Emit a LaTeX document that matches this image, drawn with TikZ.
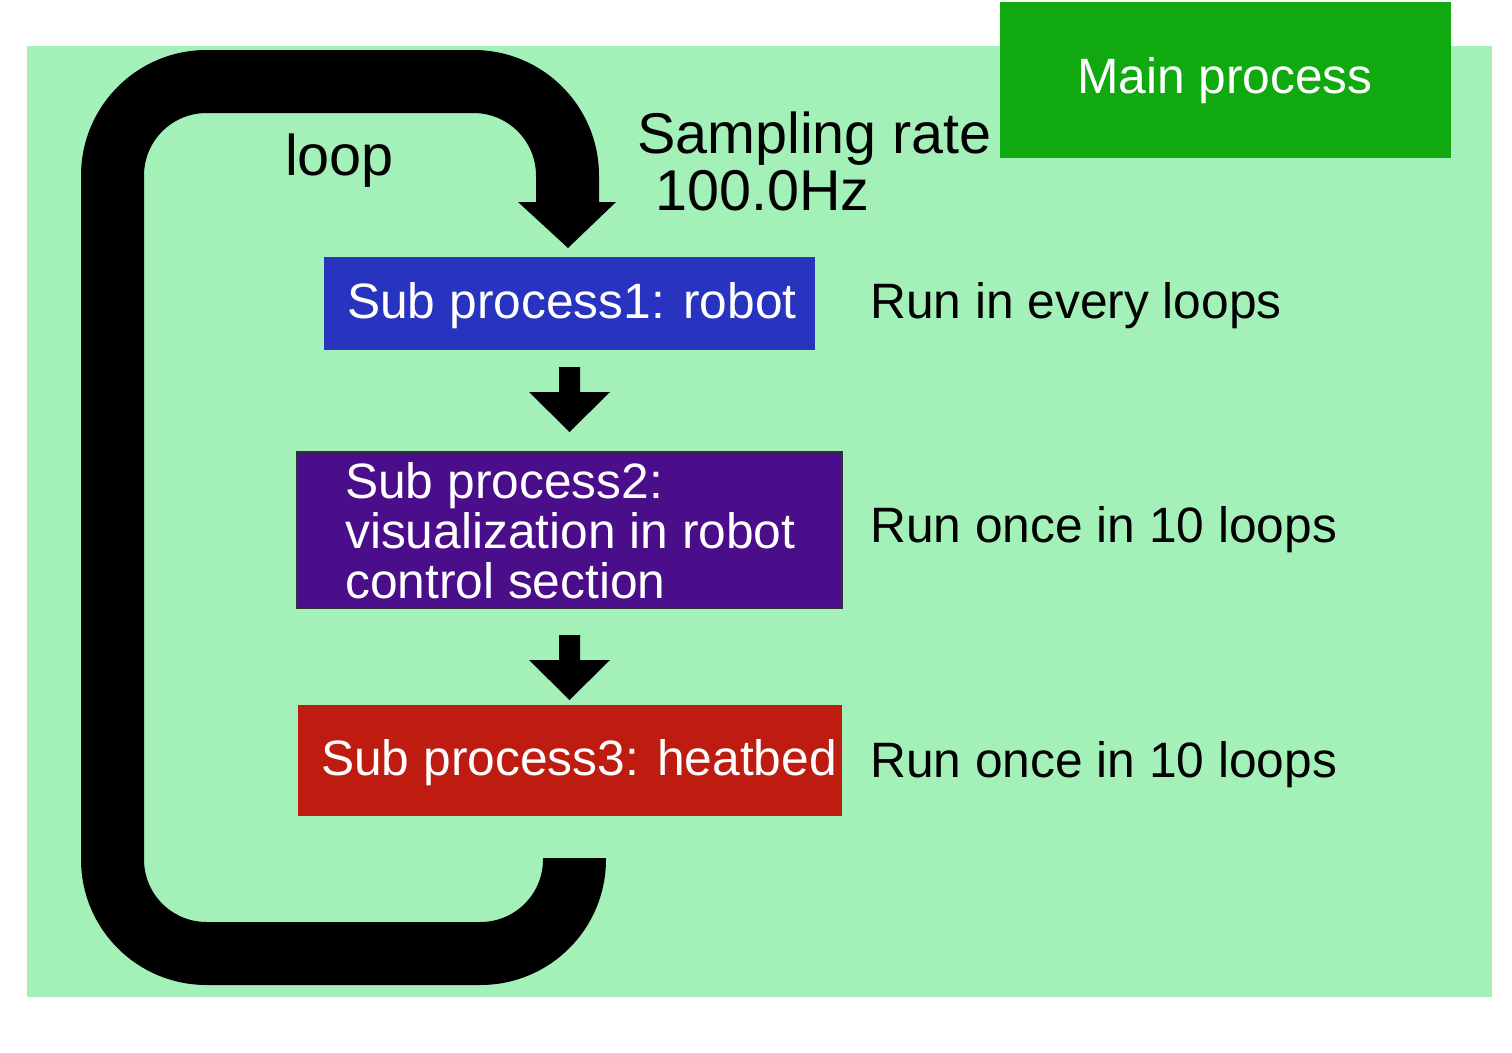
\documentclass[tikz,border=0pt]{standalone}
\usepackage{fontspec}
\setmainfont{Liberation Sans}
\begin{document}
\begin{tikzpicture}[x=1pt,y=-1pt,
  txt/.style={inner sep=0pt, anchor=base west, font=\fontsize{49.7}{51}\selectfont},
  bigtxt/.style={inner sep=0pt, anchor=base west, font=\fontsize{57.5}{60}\selectfont},
  wtxt/.style={txt, text=white},
  box/.style={inner sep=0pt, minimum width=0pt, minimum height=0pt}]
\definecolor{bggreen}{RGB}{163,240,184}
\definecolor{maingreen}{RGB}{16,170,16}
\definecolor{subblue}{RGB}{40,52,192}
\definecolor{subpurple}{RGB}{74,14,138}
\definecolor{subred}{RGB}{190,28,16}
\useasboundingbox (0,0) rectangle (1512,1052);
% background panel
\fill[bggreen] (27,46) rectangle (1492,997);
% main process box
\fill[maingreen] (1000,2) rectangle (1451,158);
\node[wtxt] (maintxt) at (1077,93) {Main process};
% loop arrow
\coordinate (loopstart) at (574.5,858);
\coordinate (loopend) at (567.5,203);
\draw[line width=63pt, rounded corners=94pt] (loopstart) -- (574.5,953.5) -- (112.5,953.5) -- (112.5,81.5) -- (567.5,81.5) -- (loopend);
\fill (518,202) -- (616,202) -- (568,248) -- cycle;
\node[bigtxt] (looptxt) at (285,175) {loop};
\node[bigtxt] (samp) at (637,153) {Sampling rate};
\node[bigtxt] (hz) at (655,210) {100.0Hz};
% sub process boxes
\fill[subblue] (324,257) rectangle (815,350);
\node[wtxt] (s1) at (347,318) {Sub process1: robot};
\filldraw[fill=subpurple, draw=black!80, line width=1.5pt] (297,452) rectangle (842,608);
\node[wtxt] (s2a) at (345,498) {Sub process2:};
\node[wtxt] (s2b) at (345,548) {visualization in robot};
\node[wtxt] (s2c) at (345,598) {control section};
\fill[subred] (298,705) rectangle (842,816);
\node[wtxt] (s3) at (321,775) {Sub process3: heatbed};
% small arrows
\fill (559,367) -- (580,367) -- (580,392) -- (610,392) -- (569.5,432) -- (529,392) -- (559,392) -- cycle;
\fill (559,635) -- (580,635) -- (580,660) -- (610,660) -- (569.5,700) -- (529,660) -- (559,660) -- cycle;
% right-hand notes
\node[txt] (r1) at (870,318) {Run in every loops};
\node[txt] (r2) at (870,542) {Run once in 10 loops};
\node[txt] (r3) at (870,777) {Run once in 10 loops};
\end{tikzpicture}
\end{document}
